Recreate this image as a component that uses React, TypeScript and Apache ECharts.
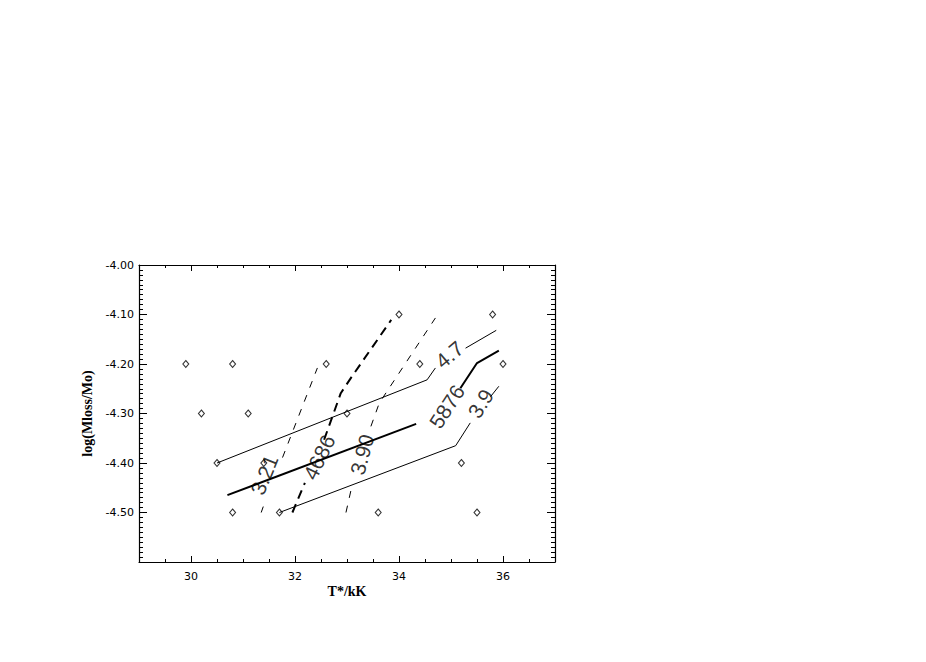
import React, { useEffect, useRef } from "react";
import * as echarts from "echarts";

// ---------- data ----------
const xTickLabels = [30, 32, 34, 36];
const yTickLabels = [-4.0, -4.1, -4.2, -4.3, -4.4, -4.5];

// model grid points (diamonds): T*/kK and log(Mloss/Mo)
const diamondT = [34.0, 35.8, 29.9, 30.8, 32.6, 34.4, 36.0, 30.2, 31.1, 33.0, 30.5, 31.4, 35.2, 30.8, 31.7, 33.6, 35.5];
const diamondM = [-4.1, -4.1, -4.2, -4.2, -4.2, -4.2, -4.2, -4.3, -4.3, -4.3, -4.4, -4.4, -4.4, -4.5, -4.5, -4.5, -4.5];

// contour lines, split where their labels sit
const c47 = [
  [[30.5, -4.4], [34.54, -4.232], [34.70, -4.208]],
  [[35.28, -4.168], [35.87, -4.132]],
];
const c39 = [
  [[31.7, -4.5], [35.09, -4.365], [35.37, -4.319]],
  [[35.76, -4.266], [35.92, -4.245]],
];
const c5876 = [
  [[30.7, -4.465], [34.33, -4.321]],
  [[35.18, -4.249], [35.5, -4.198], [35.92, -4.173]],
];
const c4686 = [
  [[31.95, -4.5], [32.19, -4.44]],
  [[32.56, -4.353], [32.88, -4.259], [33.07, -4.229], [33.85, -4.111]],
];
const c321 = [
  [[31.35, -4.5], [31.39, -4.488]],
  [[31.76, -4.389], [32.43, -4.208]],
];
const c390 = [
  [[32.98, -4.5], [33.10, -4.444]],
  [[33.46, -4.326], [33.62, -4.279], [34.70, -4.107]],
];

// contour labels and their anchor points
const contourLabels = ["3.21", "4686", "3.90", "5876", "4.7", "3.9"];
const labelT = [31.41, 32.465, 33.29, 34.92, 34.97, 35.57];
const labelM = [-4.424, -4.3885, -4.383, -4.286, -4.181, -4.28];

export default function App() {
  const ref = useRef<HTMLDivElement>(null);

  useEffect(() => {
    if (!ref.current) return;
    const chart = echarts.init(ref.current, null, { renderer: "svg" });
    const black = "#000";
    const labelAngles = [68, 64, 75, 57, 40, 58];

    const lineSeries = (segs: number[][][], width: number, type: any) =>
      segs.map((seg) => ({
        type: "line",
        xAxisIndex: 0,
        yAxisIndex: 0,
        data: seg,
        symbol: "none",
        showSymbol: false,
        silent: true,
        lineStyle: { color: black, width, type },
        z: 3,
      }));

    const xBase = {
      type: "value",
      min: 29,
      max: 37,
      gridIndex: 0,
      splitLine: { show: false },
      axisLine: { onZero: false, show: false, lineStyle: { color: black, width: 1 } },
    };

    const isMajorX = (v: number) =>
      Math.abs(v - Math.round(v)) < 1e-6 && xTickLabels.includes(Math.round(v));

    const tickFont = { color: black, fontFamily: "DejaVu Sans", fontSize: 11 };
    const nameFont = { color: black, fontFamily: "Liberation Serif", fontSize: 14, fontWeight: "bold" };

    const xAxes: any[] = [
      {
        ...xBase,
        position: "bottom",
        interval: 0.5,
        axisLine: { onZero: false, show: true, lineStyle: { color: black, width: 1.2 } },
        axisTick: { show: true, inside: true, length: 3, lineStyle: { color: black } },
        axisLabel: {
          show: true,
          margin: 9,
          ...tickFont,
          formatter: (v: number) => (isMajorX(v) ? String(Math.round(v)) : ""),
        },
        name: "T*/kK",
        nameLocation: "middle",
        nameGap: 22,
        nameTextStyle: nameFont,
      },
      {
        ...xBase,
        position: "bottom",
        splitNumber: 4,
        axisTick: { show: true, inside: true, length: 6, customValues: xTickLabels, lineStyle: { color: black } },
        axisLabel: { show: false },
      },
      {
        ...xBase,
        position: "top",
        interval: 0.5,
        axisLine: { onZero: false, show: true, lineStyle: { color: black, width: 1.2 } },
        axisTick: { show: true, inside: true, length: 3, lineStyle: { color: black } },
        axisLabel: { show: false },
      },
      {
        ...xBase,
        position: "top",
        splitNumber: 4,
        axisTick: { show: true, inside: true, length: 6, customValues: xTickLabels, lineStyle: { color: black } },
        axisLabel: { show: false },
      },
    ];

    const yBase = {
      type: "value",
      min: -4.6,
      max: -4.0,
      interval: 0.1,
      gridIndex: 0,
      splitLine: { show: false },
      axisLine: { onZero: false, show: true, lineStyle: { color: black, width: 1.2 } },
      axisTick: { show: true, inside: true, length: 8, lineStyle: { color: black } },
      minorTick: { show: true, splitNumber: 10, length: 4, lineStyle: { color: black } },
    };

    const yAxes: any[] = [
      {
        ...yBase,
        position: "left",
        axisLabel: {
          show: true,
          margin: 5,
          ...tickFont,
          showMinLabel: false,
          showMaxLabel: true,
          formatter: (v: number) => {
            const hit = yTickLabels.find((t) => Math.abs(t - v) < 1e-6);
            return hit === undefined ? "" : hit.toFixed(2);
          },
        },
        name: "log(Mloss/Mo)",
        nameLocation: "middle",
        nameGap: 45,
        nameTextStyle: nameFont,
      },
      {
        ...yBase,
        position: "right",
        axisLabel: { show: false },
      },
    ];

    const option: any = {
      animation: false,
      backgroundColor: "#fff",
      grid: { left: 139, right: 371, top: 265, bottom: 100, containLabel: false, show: false },
      xAxis: xAxes,
      yAxis: yAxes,
      series: [
        ...lineSeries(c47, 1, "solid"),
        ...lineSeries(c39, 1, "solid"),
        ...lineSeries(c5876, 2, "solid"),
        ...lineSeries(c4686, 2, [9, 6]),
        ...lineSeries(c321, 1, [7, 8]),
        ...lineSeries(c390, 1, [7, 8]),
        {
          type: "scatter",
          xAxisIndex: 0,
          yAxisIndex: 0,
          data: diamondT.map((t, i) => [t, diamondM[i]]),
          symbol: "diamond",
          symbolSize: [6, 7],
          silent: true,
          itemStyle: { color: "rgba(0,0,0,0)", borderColor: black, borderWidth: 1 },
          z: 4,
        },
        {
          type: "scatter",
          xAxisIndex: 0,
          yAxisIndex: 0,
          symbolSize: 0,
          silent: true,
          data: contourLabels.map((s, i) => ({
            name: s,
            value: [labelT[i], labelM[i]],
            label: { rotate: labelAngles[i] },
          })),
          label: {
            show: true,
            position: "inside",
            formatter: (p: any) => p.name,
            color: black,
            fontFamily: "Liberation Sans",
            fontSize: 21,
            align: "center",
            verticalAlign: "middle",
          },
          z: 5,
        },
      ],
    };

    chart.setOption(option);
    return () => chart.dispose();
  }, []);

  return (
    <div
      ref={ref}
      style={{ position: "fixed", left: 0, top: 0, width: 926, height: 662, background: "#fff" }}
    />
  );
}
